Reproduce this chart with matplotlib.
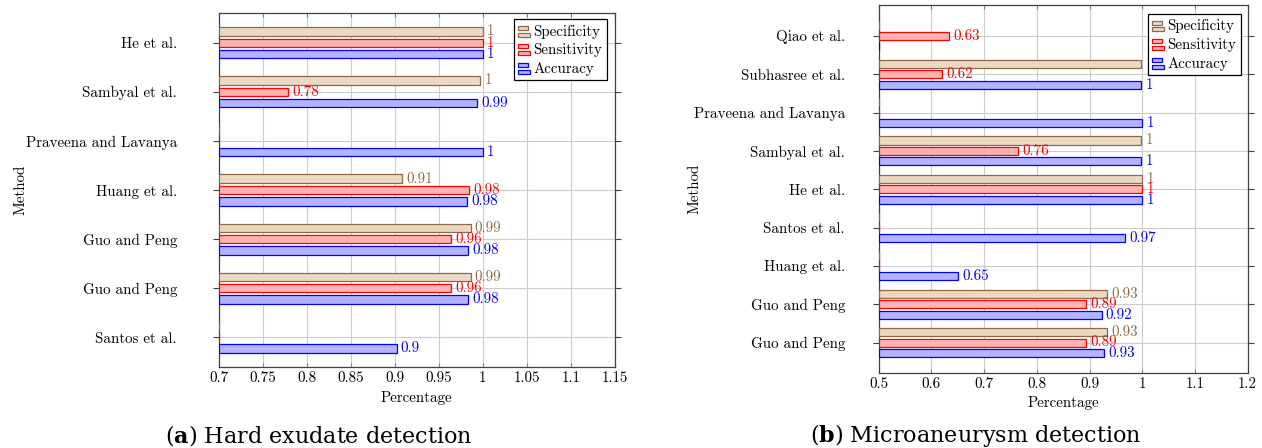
import numpy as np
import matplotlib
matplotlib.use('Agg')
import matplotlib.pyplot as plt
from matplotlib.legend_handler import HandlerBase
from matplotlib.patches import Rectangle

# (a) Hard exudate detection
methods_a = ['He et al.', 'Sambyal et al.', 'Praveena and Lavanya', 'Huang et al.',
             'Guo and Peng', 'Guo and Peng', 'Santos et al.']
spec_a = [1.0, 0.997, 0, 0.908, 0.986, 0.986, 0]
sens_a = [1.0, 0.779, 0, 0.984, 0.964, 0.964, 0]
acc_a = [1.0, 0.993, 1.0, 0.982, 0.983, 0.983, 0.902]
xticks_a = [0.7, 0.75, 0.8, 0.85, 0.9, 0.95, 1.0, 1.05, 1.1, 1.15]

# (b) Microaneurysm detection
methods_b = ['Qiao et al.', 'Subhasree et al.', 'Praveena and Lavanya', 'Sambyal et al.',
             'He et al.', 'Santos et al.', 'Huang et al.', 'Guo and Peng', 'Guo and Peng']
spec_b = [0, 0.998, 0, 0.998, 1.0, 0, 0, 0.934, 0.934]
sens_b = [0.633, 0.621, 0, 0.764, 1.0, 0, 0, 0.894, 0.894]
acc_b = [0, 0.998, 1.0, 0.998, 1.0, 0.968, 0.651, 0.923, 0.927]
xticks_b = [0.5, 0.6, 0.7, 0.8, 0.9, 1.0, 1.1, 1.2]

series_names = ['Specificity', 'Sensitivity', 'Accuracy']

BROWN = '#8f6a45'
plt.rcParams['font.family'] = 'cmr10'
plt.rcParams['axes.unicode_minus'] = False
plt.rcParams['mathtext.fontset'] = 'dejavuserif'
FS = 10.8


class TwoBars(HandlerBase):
    # pgfplots style legend image: two small stacked bars
    def create_artists(self, legend, orig, xd, yd, width, height, fontsize, trans):
        fc = orig.get_facecolor()
        ec = orig.get_edgecolor()
        h = height * 0.3
        r1 = Rectangle((-xd, -yd + height * 0.05), width, h, facecolor=fc,
                       edgecolor=ec, linewidth=0.9, transform=trans)
        r2 = Rectangle((-xd, -yd + height * 0.55), width * 0.9, h, facecolor=fc,
                       edgecolor=ec, linewidth=0.9, transform=trans)
        return [r1, r2]


def draw(ax, methods, spec, sens, acc, xticks, bar_h, shift, ypad, ymarg):
    n = len(methods)
    pos = np.arange(n)[::-1]
    xmin, xmax = xticks[0], xticks[-1]
    series = [
        (spec, shift, '#ebd9c6', BROWN),
        (sens, 0.0, '#ffb3b3', 'red'),
        (acc, -shift, '#b3b3ff', 'blue'),
    ]
    handles = []
    for vals, off, fc, ec in series:
        vals = np.array(vals, dtype=float)
        # bars start at the axis minimum (zero values leave a thin sliver, as in pgfplots)
        bars = ax.barh(pos + off, np.clip(vals - xmin, 0, None), left=xmin, height=bar_h,
                       color=fc, edgecolor=ec, linewidth=0.9, zorder=2.6)
        handles.append(bars[0])
        for p, v in zip(pos, vals):
            if v > xmin:
                ax.annotate(f'{round(v, 2):g}', (v, p + off), xytext=(3, 0),
                            textcoords='offset points', ha='left', va='center',
                            color=ec, fontsize=FS, zorder=3)
    ax.set_xlim(xmin, xmax)
    ax.set_ylim(-ymarg, n - 1 + ymarg)
    ax.set_xticks(xticks)
    ax.set_xticklabels([f'{t:g}' for t in xticks], fontsize=FS)
    ax.set_yticks(pos)
    ax.set_yticklabels(methods, fontsize=FS)
    ax.tick_params(axis='x', direction='in', length=3, width=0.8, color='#808080',
                   top=True, bottom=True, pad=3)
    ax.tick_params(axis='y', direction='out', length=4.5, width=0.8, color='#404040',
                   left=True, right=True, pad=ypad)
    ax.grid(True, color='#cccccc', linewidth=0.8)
    ax.set_axisbelow(True)
    for s in ax.spines.values():
        s.set_color('#404040')
        s.set_linewidth(0.9)
    ax.set_xlabel('Percentage', fontsize=FS)
    ax.set_ylabel('Method', fontsize=FS)
    return handles


fig = plt.figure(figsize=(12.62, 4.48), dpi=100)
ax1 = fig.add_axes([218.7 / 1262, 1 - 366.7 / 448, 396.3 / 1262, 353.4 / 448])
ax2 = fig.add_axes([878.7 / 1262, 1 - 373.3 / 448, 369 / 1262, 368 / 448])

h1 = draw(ax1, methods_a, spec_a, sens_a, acc_a, xticks_a, 0.171, 0.231, 25.5, 0.6)
h2 = draw(ax2, methods_b, spec_b, sens_b, acc_b, xticks_b, 0.21, 0.273, 19.8, 0.8)

ax1.xaxis.set_label_coords(0.5, -0.07)
ax2.xaxis.set_label_coords(0.5, -0.062)
ax1.yaxis.set_label_coords(-0.482, 0.5)
ax2.yaxis.set_label_coords(-0.48, 0.5)

for ax, hs, anchor in [(ax1, h1, (0.979, 0.983)), (ax2, h2, (0.981, 0.976))]:
    leg = ax.legend(hs, series_names, loc='upper right', bbox_to_anchor=anchor,
                    borderaxespad=0, fontsize=FS, handler_map={type(hs[0]): TwoBars()},
                    handlelength=0.75, handleheight=1.0, handletextpad=0.25,
                    labelspacing=0.25, borderpad=0.3, fancybox=False, framealpha=1,
                    edgecolor='black')
    leg.get_frame().set_linewidth(0.9)
    leg.set_zorder(5)

fig.text(318.5 / 1262, 1 - 435 / 448, r'($\mathbf{a}$) Hard exudate detection',
         ha='center', va='center', fontsize=16, family='DejaVu Serif')
fig.text(976 / 1262, 1 - 435 / 448, r'($\mathbf{b}$) Microaneurysm detection',
         ha='center', va='center', fontsize=16, family='DejaVu Serif')

fig.savefig('out.png', dpi=100)
